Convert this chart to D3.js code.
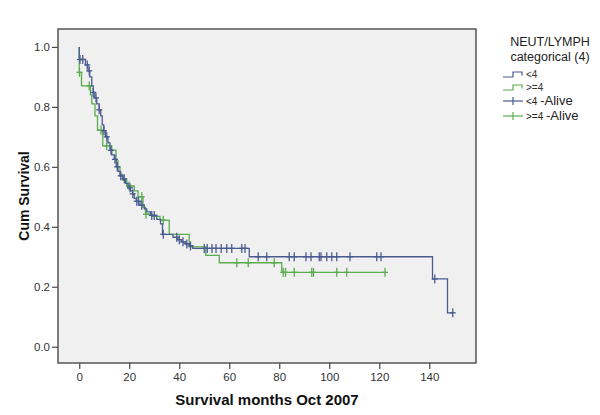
<!DOCTYPE html>
<html><head><meta charset="utf-8">
<script src="https://cdn.jsdelivr.net/npm/d3@7"></script>
<style>body{margin:0;background:#fff}svg{display:block}text{font-family:"Liberation Sans",Arial,sans-serif}</style>
</head><body>
<svg id="c" width="600" height="415"></svg>
<script>
// Group <4 : step times (months) and survival after step
const lowTimes = [0,2.5,3.5,4.2,5,5.6,6.2,7,8,8.6,9.2,9.8,10.5,11.5,12.3,13,14,14.8,15.5,16.3,17.5,18.5,19.5,20.5,21.3,22,22.8,24.3,26,27,28.5,31,32.5,33.3,37.5,39.5,41,42.5,44,45.4,68,141.3,147.3];
const lowSurv  = [0.958,0.94,0.92,0.90,0.87,0.848,0.83,0.81,0.79,0.77,0.74,0.72,0.70,0.68,0.655,0.64,0.625,0.60,0.585,0.57,0.56,0.545,0.53,0.52,0.51,0.495,0.485,0.472,0.46,0.45,0.438,0.425,0.41,0.375,0.365,0.357,0.35,0.343,0.336,0.328,0.30,0.226,0.113];
const lowEnd = 149.4;
const lowCensored = [0.3,1.4,3.2,4.0,5.6,6.7,8.0,9.9,11,12.7,14.3,15.2,16.6,18,20.3,21.4,23,23.7,25,29,30,33.6,39,40,41.5,43,44.5,50,51.2,53.1,54.7,56.8,59,61,65,66.3,71.6,75,84,86,90.7,92.7,96,96.7,99,101,103,108.3,119,120.7,142.2,149.4];

// Group >=4
const highTimes = [0,0.9,4.5,5,6.3,7.3,9.4,13,14.7,15.5,16.3,17.3,19,22,23.5,25.5,26.5,29,32.3,36,44,50.6,56,81];
const highSurv  = [0.915,0.87,0.84,0.81,0.77,0.722,0.67,0.656,0.62,0.60,0.575,0.556,0.536,0.52,0.50,0.465,0.442,0.435,0.422,0.375,0.333,0.305,0.28,0.248];
const highEnd = 122.3;
const highCensored = [0.1,4,8.7,11,19.9,25,26.7,33.6,63,67.6,78,81.6,82.5,86,93,93.7,103,107,122.3];

const xTicks = [0,20,40,60,80,100,120,140];
const yTicks = [0.0,0.2,0.4,0.6,0.8,1.0];
const legendTitle = ["NEUT/LYMPH","categorical (4)"];
const groupLabels = ["<4", ">=4"];
const colors = ["#4a5b90", "#5aac4e"];

const svg = d3.select("#c");
const L = 58, R = 476, T = 29, B = 363;
const x = d3.scaleLinear().domain([-8.5, 158.7]).range([L, R]);
const y = d3.scaleLinear().domain([-0.0543, 1.0597]).range([B, T]);

svg.append("rect").attr("x",L).attr("y",T).attr("width",R-L).attr("height",B-T)
  .attr("fill","#f0f0f0").attr("stroke","#4a4a4a").attr("stroke-width",1.4);

// axes
const yAxis = svg.append("g").attr("transform",`translate(${L},0)`)
  .call(d3.axisLeft(y).tickValues(yTicks).tickFormat(d3.format(".1f")).tickSize(6).tickPadding(2));
const xAxis = svg.append("g").attr("transform",`translate(0,${B})`)
  .call(d3.axisBottom(x).tickValues(xTicks).tickFormat(d3.format("d")).tickSize(6).tickPadding(4));
[yAxis,xAxis].forEach(a=>{
  a.select(".domain").remove();
  a.selectAll("line").attr("stroke","#4a4a4a").attr("stroke-width",1.2);
  a.selectAll("text").attr("fill","#333").style("font-size","11.5px").style("font-family","'Liberation Sans',Arial,sans-serif");
});

svg.append("text").attr("x",(L+R)/2).attr("y",405).attr("text-anchor","middle")
  .style("font-size","15px").style("font-weight","bold").attr("fill","#111").text("Survival months Oct 2007");
svg.append("text").attr("transform",`translate(29,${(T+B)/2}) rotate(-90)`).attr("text-anchor","middle")
  .style("font-size","14px").style("font-weight","bold").attr("fill","#111").text("Cum Survival");

function survAt(times, surv, t){
  let s = 1;
  for(let i=0;i<times.length;i++){ if(times[i] <= t) s = surv[i]; }
  return s;
}
const groups = [
  {times: lowTimes, surv: lowSurv, end: lowEnd, cens: lowCensored, color: colors[0]},
  {times: highTimes, surv: highSurv, end: highEnd, cens: highCensored, color: colors[1]}
];
const line = d3.line().x(d=>x(d[0])).y(d=>y(d[1])).curve(d3.curveStepAfter);
[groups[1], groups[0]].forEach(g=>{
  const pts = [[0,1]].concat(g.times.map((t,i)=>[t,g.surv[i]]));
  pts.push([g.end, g.surv[g.surv.length-1]]);
  svg.append("path").datum(pts).attr("d",line).attr("fill","none")
    .attr("stroke",g.color).attr("stroke-width",1.3);
  const cg = svg.append("g").attr("stroke",g.color).attr("stroke-width",1.3);
  g.cens.forEach(t=>{
    const cx = x(t), cy = y(survAt(g.times,g.surv,t));
    cg.append("line").attr("x1",cx).attr("x2",cx).attr("y1",cy-4.5).attr("y2",cy+4.5);
    cg.append("line").attr("x1",cx-3).attr("x2",cx+3).attr("y1",cy).attr("y2",cy);
  });
});

// legend
const lg = svg.append("g");
lg.append("text").attr("x",550).attr("y",46).attr("text-anchor","middle").style("font-size","12.5px").attr("fill","#222").text(legendTitle[0]);
lg.append("text").attr("x",550).attr("y",61).attr("text-anchor","middle").style("font-size","12.5px").attr("fill","#222").text(legendTitle[1]);
groupLabels.forEach((lab,i)=>{
  const yy = 77 + i*13;
  lg.append("path").attr("d",`M503,${yy}H513V${yy-5}H522V${yy-1.5}`).attr("fill","none").attr("stroke",colors[i]).attr("stroke-width",1.2);
  lg.append("text").attr("x",526).attr("y",yy+1).style("font-size","10px").attr("fill","#333").text(lab);
});
groupLabels.forEach((lab,i)=>{
  const yy = 101 + i*15;
  lg.append("line").attr("x1",503).attr("x2",523).attr("y1",yy).attr("y2",yy).attr("stroke",colors[i]).attr("stroke-width",1.2);
  lg.append("line").attr("x1",513).attr("x2",513).attr("y1",yy-4).attr("y2",yy+4).attr("stroke",colors[i]).attr("stroke-width",1.2);
  const t = lg.append("text").attr("x",526).attr("y",yy+4).attr("fill","#222");
  t.append("tspan").style("font-size","10px").text(lab+" ");
  t.append("tspan").style("font-size","13px").text("-Alive");
});
</script>
</body></html>
